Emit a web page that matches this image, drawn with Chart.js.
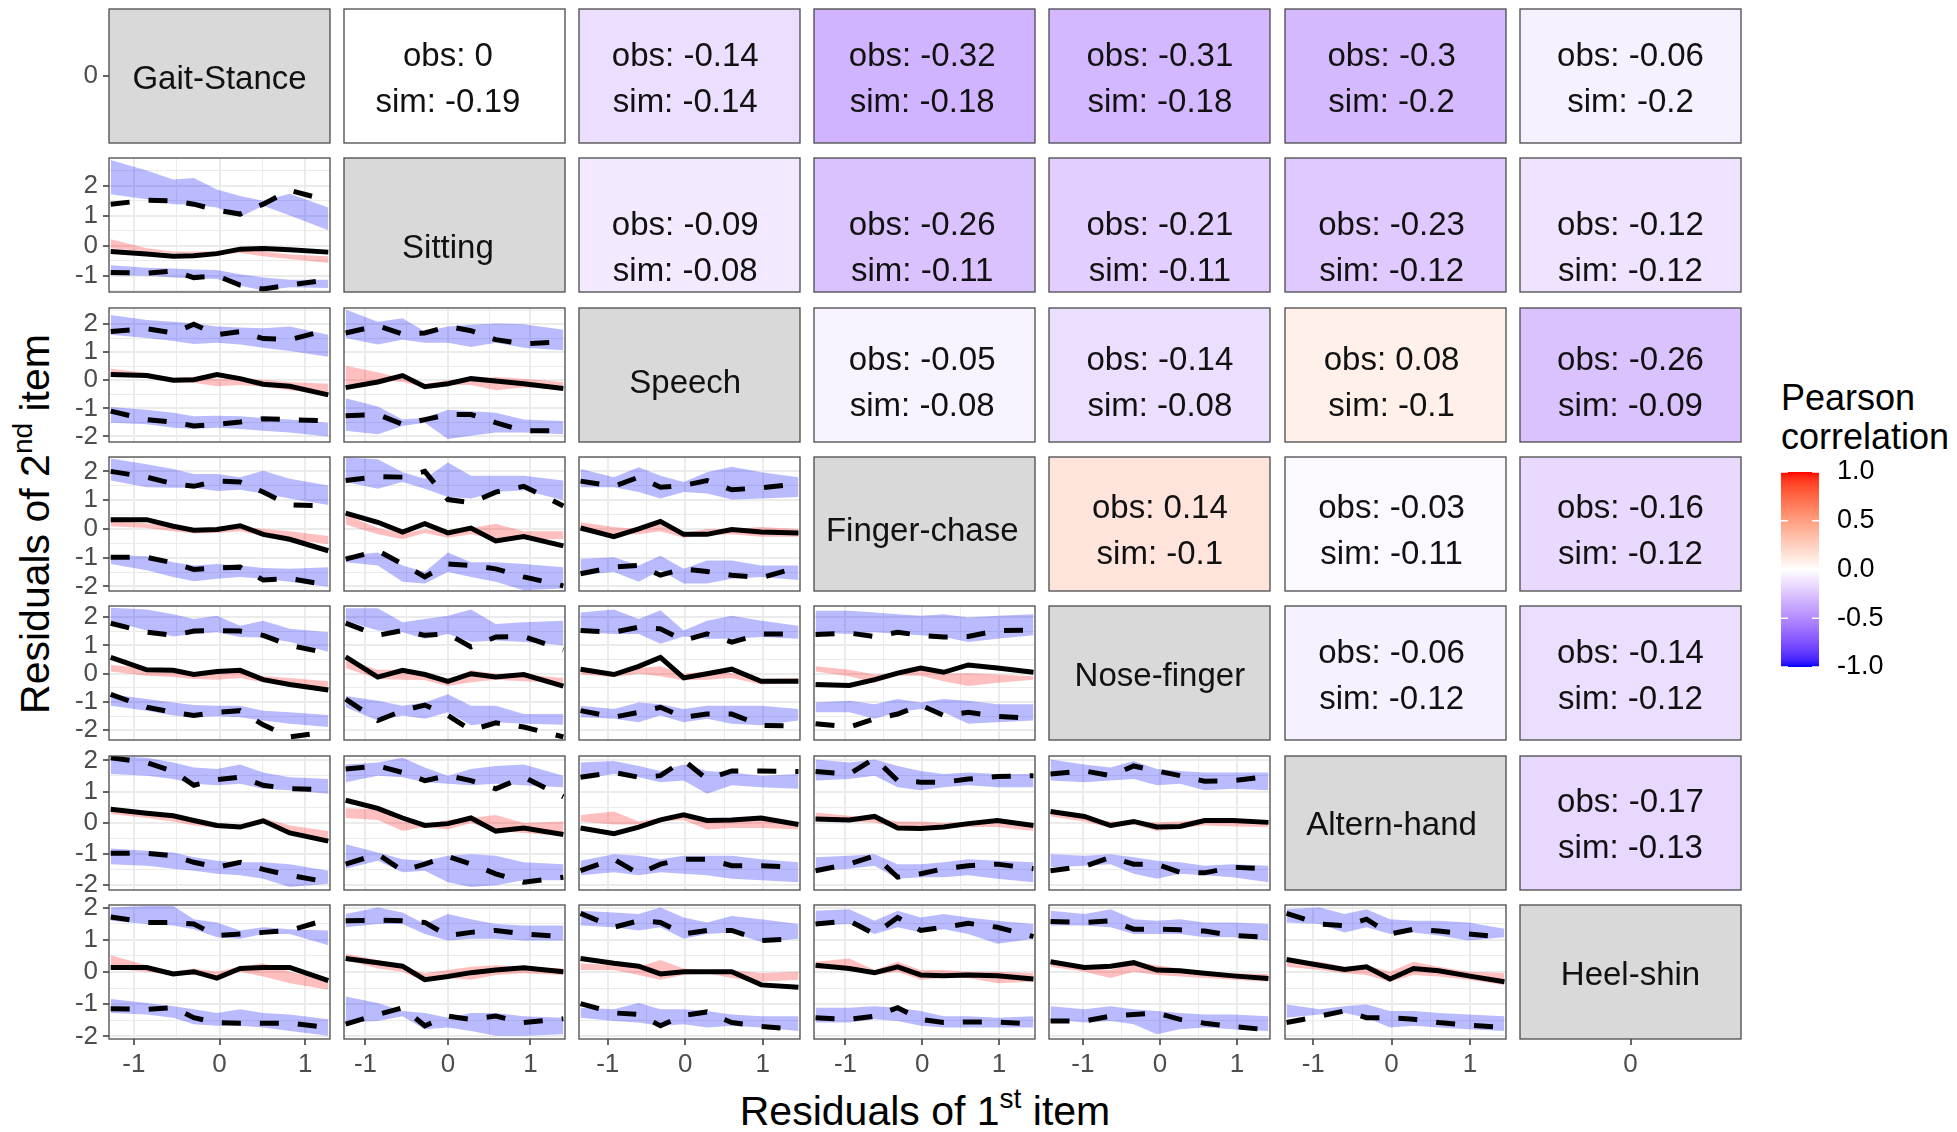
<!DOCTYPE html>
<html>
<head>
<meta charset="utf-8">
<script src="https://cdn.jsdelivr.net/npm/chart.js@4.4.1/dist/chart.umd.min.js"></script>
<style>
  body { margin: 0; background: #fff; }
  #page { position: relative; width: 1957px; height: 1132px; overflow: hidden; background: #fff;
          font-family: "Liberation Sans", Arial, sans-serif; }
  #page canvas { position: absolute; }
  .txt { position: absolute; color: #000; white-space: nowrap; line-height: 1; }
  .sup { font-size: 28px; position: relative; top: -17px; }
</style>
</head>
<body>
<div id="page">
  <div class="txt" id="ytitle" style="font-size:41px;left:35px;top:524px;transform:translate(-50%,-50%) rotate(-90deg);">Residuals of 2<span class="sup">nd</span> item</div>
  <div class="txt" id="xtitle" style="font-size:41px;left:925px;top:1111px;transform:translate(-50%,-50%);">Residuals of 1<span class="sup">st</span> item</div>
  <div class="txt" style="font-size:36px;left:1781px;top:380px;">Pearson</div>
  <div class="txt" style="font-size:36px;left:1781px;top:419px;">correlation</div>
</div>
<script>
const FONT = '"Liberation Sans", Arial, sans-serif';

// items (rows = 2nd item, columns = 1st item)
const items = ['Gait-Stance', 'Sitting', 'Speech', 'Finger-chase', 'Nose-finger', 'Altern-hand', 'Heel-shin'];

// upper triangle, in order r0c1..r0c6, r1c2..r1c6, ... r5c6
const obsCorr = [0, -0.14, -0.32, -0.31, -0.3, -0.06,
                 -0.09, -0.26, -0.21, -0.23, -0.12,
                 -0.05, -0.14, 0.08, -0.26,
                 0.14, -0.03, -0.16,
                 -0.06, -0.14,
                 -0.17];
const simCorr = [-0.19, -0.14, -0.18, -0.18, -0.2, -0.2,
                 -0.08, -0.11, -0.11, -0.12, -0.12,
                 -0.08, -0.08, -0.1, -0.09,
                 -0.1, -0.11, -0.12,
                 -0.12, -0.12,
                 -0.13];

// axis ranges and tick labels
const xMin = [-1.29, -1.26, -1.37, -1.41, -1.44, -1.36, -1];
const xMax = [1.29, 1.42, 1.48, 1.47, 1.43, 1.46, 1];
const yMin = [-1, -1.55, -2.2, -2.16, -2.35, -2.16, -2.08];
const yMax = [1, 2.92, 2.58, 2.5, 2.4, 2.14, 2.08];
const xTicks = [-1, 0, 1];
const yTicks = [-2, -1, 0, 1, 2];
const centreTick = [0];
const legendTicks = [-1, -0.5, 0, 0.5, 1];

// bin centres of the 1st item, per column
const xBins = [
  [-1.27, -0.85, -0.54, -0.30, -0.03, 0.24, 0.51, 0.82, 1.27],
  [-1.24, -0.85, -0.55, -0.28, 0.0, 0.28, 0.58, 0.92, 1.40],
  [-1.35, -0.92, -0.6, -0.32, -0.02, 0.28, 0.6, 0.98, 1.46],
  [-1.39, -0.95, -0.62, -0.32, -0.02, 0.28, 0.6, 0.98, 1.45],
  [-1.42, -0.98, -0.64, -0.34, -0.04, 0.26, 0.58, 0.95, 1.41],
  [-1.34, -0.92, -0.6, -0.32, -0.02, 0.28, 0.6, 0.98, 1.44]
];

// lower triangle panels, in order r1c0, r2c0, r2c1, r3c0 ... r6c5
// observed upper quantile (dashed)
const upperObs = [
  [1.38,1.51,1.49,1.38,1.18,1.05,1.38,1.84,1.5],
  [1.74,1.84,1.69,2.0,1.63,1.74,1.49,1.45,1.8],
  [1.69,1.95,1.65,1.69,1.92,1.77,1.45,1.3,1.37],
  [2.0,1.8,1.57,1.48,1.66,1.63,1.28,0.83,0.8],
  [1.68,1.82,1.8,2.0,1.02,0.91,1.28,1.48,0.8],
  [1.66,1.48,1.8,1.45,1.51,1.68,1.36,1.43,1.57],
  [1.79,1.47,1.36,1.51,1.53,1.51,1.36,1.01,0.72],
  [1.79,1.36,1.53,1.36,1.41,0.95,1.3,1.32,0.84],
  [1.53,1.47,1.65,1.59,1.18,1.41,1.12,1.41,1.41],
  [1.39,1.44,1.32,1.47,1.36,1.3,1.32,1.53,1.55],
  [2.08,1.93,1.65,1.2,1.38,1.46,1.2,1.09,1.06],
  [1.72,1.82,1.61,1.35,1.51,1.35,1.09,1.46,0.83],
  [1.46,1.61,1.46,1.51,2.0,1.4,1.66,1.66,1.64],
  [1.64,1.56,2.06,1.35,1.3,1.3,1.4,1.48,1.51],
  [1.56,1.66,1.51,1.82,1.66,1.51,1.33,1.35,1.48],
  [1.71,1.54,1.54,1.49,1.13,1.18,1.23,1.29,1.64],
  [1.59,1.61,1.59,1.54,1.13,1.23,1.29,1.18,1.1],
  [1.82,1.39,1.59,1.54,1.18,1.29,1.29,0.98,1.03],
  [1.49,1.59,1.18,1.69,1.29,1.39,1.51,1.39,1.1],
  [1.57,1.54,1.59,1.33,1.33,1.31,1.27,1.13,1.08],
  [1.82,1.49,1.44,1.64,1.18,1.33,1.27,1.18,1.08]
];
// simulated band for the upper quantile
const upperSimHi = [
  [2.85,2.5,2.2,2.25,1.87,1.65,1.49,1.73,1.27],
  [2.33,2.15,2.09,2.03,1.92,1.88,1.86,1.92,1.63],
  [2.53,2.09,2.21,1.74,1.92,1.98,2.03,2.0,1.8],
  [2.45,2.25,2.08,1.91,1.91,1.8,2.02,1.74,1.51],
  [2.48,2.42,1.97,1.74,2.31,1.85,1.85,1.85,1.68],
  [2.08,1.8,2.14,1.85,1.63,1.97,2.16,1.97,1.8],
  [2.34,2.28,2.11,1.94,2.05,1.7,1.88,1.59,1.47],
  [2.32,2.32,1.82,1.94,2.05,2.28,1.76,1.82,1.88],
  [2.17,2.28,1.94,2.25,1.53,1.88,2.05,1.88,1.7],
  [2.23,2.23,2.17,2.11,2.05,2.11,1.99,2.05,2.11],
  [2.14,2.08,1.93,1.77,1.72,1.87,1.61,1.46,1.4],
  [1.87,1.93,2.08,1.77,1.51,1.72,1.82,1.87,1.51],
  [1.93,1.98,1.82,1.66,1.87,1.66,1.61,1.51,1.56],
  [2.03,1.93,2.03,1.82,1.66,1.56,1.61,1.56,1.56],
  [2.03,1.87,1.77,1.98,1.72,1.66,1.61,1.61,1.61],
  [2.0,2.05,2.05,1.64,1.54,1.29,1.39,1.33,1.29],
  [1.8,2.0,1.85,1.49,1.8,1.64,1.49,1.44,1.44],
  [1.9,1.85,1.8,2.0,1.69,1.54,1.74,1.64,1.49],
  [1.9,1.95,1.59,1.9,1.69,1.8,1.69,1.59,1.49],
  [1.9,1.8,1.95,1.64,1.59,1.64,1.54,1.54,1.49],
  [1.95,2.0,1.8,1.95,1.64,1.59,1.59,1.54,1.34]
];
const upperSimLo = [
  [1.71,1.54,1.38,1.36,1.27,0.95,1.33,1.0,0.51],
  [1.63,1.51,1.4,1.3,1.34,1.28,1.16,1.05,0.84],
  [1.51,1.28,1.45,1.34,1.34,1.19,1.34,1.16,1.07],
  [1.68,1.45,1.43,1.43,1.32,1.36,1.23,1.06,0.83],
  [1.63,1.4,1.63,1.4,1.11,1.06,1.28,1.34,1.0],
  [1.45,1.45,1.28,1.06,1.28,1.23,1.02,1.06,1.11],
  [1.88,1.53,1.32,1.41,1.47,1.3,1.28,1.12,0.78],
  [1.88,1.53,1.47,1.24,1.41,1.12,1.18,1.12,1.01],
  [1.47,1.41,1.41,1.06,1.32,1.24,1.24,1.3,1.24],
  [1.47,1.41,1.47,1.41,1.36,1.3,1.12,1.24,1.36],
  [1.56,1.51,1.4,1.25,1.2,1.25,1.09,1.04,0.93],
  [1.3,1.51,1.46,1.3,1.25,1.2,1.25,1.2,1.14],
  [1.4,1.56,1.46,1.3,1.35,0.93,1.2,1.14,1.09],
  [1.35,1.4,1.51,1.14,1.04,1.14,1.2,1.14,1.14],
  [1.35,1.3,1.35,1.4,1.2,1.25,1.04,1.09,1.04],
  [1.59,1.49,1.44,1.33,1.08,1.03,1.18,1.18,0.83],
  [1.39,1.49,1.49,1.18,0.98,1.03,1.03,0.98,0.98],
  [1.44,1.39,1.29,1.39,1.03,1.18,1.23,0.93,1.03],
  [1.44,1.49,1.18,1.39,1.23,1.33,1.18,0.88,1.03],
  [1.44,1.44,1.39,1.18,1.18,1.18,1.08,1.08,0.98],
  [1.54,1.49,1.23,1.39,1.18,1.23,1.13,0.98,1.08]
];
// observed median (solid)
const medianObs = [
  [-0.2,-0.28,-0.36,-0.34,-0.27,-0.12,-0.1,-0.14,-0.22],
  [0.21,0.17,0,0.02,0.21,0.06,-0.14,-0.21,-0.52],
  [-0.26,-0.06,0.17,-0.23,-0.12,0.06,-0.02,-0.12,-0.29],
  [0.32,0.32,0.09,-0.05,-0.02,0.11,-0.19,-0.36,-0.76],
  [0.55,0.23,-0.11,0.18,-0.14,0.03,-0.42,-0.27,-0.59],
  [0.03,-0.27,0,0.26,-0.19,-0.19,-0.02,-0.11,-0.14],
  [0.58,0.14,0.12,-0.03,0.08,0.12,-0.21,-0.38,-0.58],
  [0.6,-0.12,0.12,-0.03,-0.27,0,-0.12,-0.03,-0.44],
  [0.16,-0.03,0.26,0.58,-0.15,0,0.16,-0.27,-0.27],
  [-0.38,-0.42,-0.21,0.02,0.2,0.05,0.31,0.2,0.05],
  [0.43,0.3,0.22,0.07,-0.09,-0.14,0.06,-0.33,-0.59],
  [0.72,0.46,0.15,-0.09,-0.03,0.15,-0.27,-0.17,-0.38],
  [-0.17,-0.35,-0.14,0.09,0.25,0.07,0.09,0.15,-0.06],
  [0.12,0.09,0.2,-0.17,-0.19,-0.14,-0.03,0.07,-0.09],
  [0.36,0.2,-0.09,0.04,-0.14,-0.12,0.07,0.07,0.01],
  [0.14,0.14,-0.06,0.01,-0.19,0.11,0.14,0.14,-0.27],
  [0.42,0.29,0.18,-0.24,-0.14,-0.02,0.06,0.13,0.01],
  [0.42,0.27,0.18,-0.06,0.01,0.01,0.01,-0.4,-0.47],
  [0.21,0.11,-0.02,0.16,-0.09,-0.12,-0.09,-0.12,-0.22],
  [0.32,0.14,0.18,0.29,0.06,0.04,-0.04,-0.12,-0.2],
  [0.39,0.21,0.08,0.16,-0.22,0.11,0.04,-0.12,-0.3]
];
// simulated band for the median
const medianSimHi = [
  [0.21,-0.09,-0.2,-0.2,-0.2,-0.14,-0.2,-0.3,-0.36],
  [0.41,0.26,0.09,0.12,0.06,0.06,0.02,-0.06,-0.12],
  [0.52,0.29,0.06,-0.12,0,0.02,0.12,0.06,-0.06],
  [0.26,0.2,0.09,0,0.03,0.09,0,-0.08,-0.25],
  [0.49,0.03,-0.14,-0.02,-0.08,0.03,0.18,-0.08,-0.08],
  [0.23,0.07,0,0.2,-0.14,0,0,0.07,0],
  [0.31,0.2,0.14,0.05,0.08,0.08,-0.09,-0.15,-0.27],
  [0.51,0.14,0.14,0.08,-0.21,0.12,0,-0.03,-0.15],
  [0.14,0.02,0.2,0.26,0,0.08,0.02,-0.19,-0.15],
  [0.26,0.14,-0.03,0.02,0.14,0,0.02,-0.03,-0.09],
  [0.41,0.28,0.2,0.07,-0.03,-0.06,0.15,-0.09,-0.27],
  [0.46,0.43,0.04,-0.06,0.09,0.15,0.25,-0.01,0.04],
  [0.25,0.36,0.04,0.15,0.25,0.09,0.09,0.09,-0.01],
  [0.33,0.22,0.15,0.04,0.04,-0.01,0.04,0.04,-0.03],
  [0.3,0.15,0.04,0.04,0.01,0.04,0.12,0.04,0.04],
  [0.52,0.21,0.01,0.11,0.01,0.16,0.27,0.01,-0.24],
  [0.57,0.37,0.16,-0.04,0.06,0.16,0.21,0.16,0.11],
  [0.27,0.21,0.16,0.37,0.11,0.06,0.06,-0.04,0.01],
  [0.32,0.42,0.06,0.32,0.06,0.06,0.01,0.01,-0.04],
  [0.37,0.16,0.06,0.32,0.21,0.11,0.01,-0.04,-0.06],
  [0.37,0.32,0.16,0.21,0.01,0.32,0.16,0.01,-0.04]
];
const medianSimLo = [
  [-0.09,-0.2,-0.25,-0.28,-0.3,-0.25,-0.36,-0.45,-0.58],
  [0.17,0.09,-0.06,-0.09,-0.21,-0.17,-0.23,-0.35,-0.47],
  [-0.17,0,-0.06,-0.26,-0.17,-0.17,-0.35,-0.26,-0.33],
  [0.09,0.03,-0.08,-0.16,-0.14,-0.08,-0.25,-0.36,-0.53],
  [0.15,-0.19,-0.36,-0.14,-0.31,-0.19,-0.36,-0.34,-0.36],
  [-0.08,-0.19,-0.19,-0.08,-0.31,-0.23,-0.19,-0.27,-0.27],
  [0.08,-0.07,-0.12,-0.19,-0.21,-0.15,-0.3,-0.42,-0.61],
  [0.2,-0.19,-0.21,-0.23,-0.44,-0.3,-0.21,-0.27,-0.32],
  [-0.03,-0.12,0,-0.09,-0.23,-0.21,-0.15,-0.38,-0.32],
  [0.08,-0.09,-0.32,-0.07,-0.07,-0.27,-0.44,-0.32,-0.21],
  [0.28,0.15,0.04,-0.09,-0.17,-0.2,-0.03,-0.27,-0.64],
  [0.15,0.09,-0.27,-0.14,-0.22,-0.01,-0.27,-0.33,-0.43],
  [0.04,-0.06,-0.06,0.04,0.09,-0.22,-0.17,-0.17,-0.22],
  [0.07,0.04,0.01,-0.17,-0.22,-0.17,-0.14,-0.14,-0.27],
  [0.2,0.04,-0.17,-0.06,-0.27,-0.17,-0.09,-0.12,-0.14],
  [0.11,0.01,-0.09,-0.09,-0.19,0.01,-0.14,-0.35,-0.55],
  [0.37,0.11,0.01,-0.3,-0.19,-0.24,-0.09,-0.04,-0.09],
  [0.06,0.06,-0.09,-0.24,-0.09,-0.04,-0.19,-0.3,-0.24],
  [0.11,0.06,-0.09,0.01,-0.24,-0.19,-0.19,-0.35,-0.3],
  [0.16,0.01,-0.19,0.01,-0.09,-0.14,-0.19,-0.24,-0.3],
  [0.16,0.06,-0.04,-0.09,-0.3,-0.09,-0.14,-0.24,-0.4]
];
// observed lower quantile (dashed)
const lowerObs = [
  [-0.9,-0.92,-0.85,-1.07,-1.01,-1.32,-1.45,-1.32,-1.14],
  [-1.1,-1.4,-1.49,-1.63,-1.57,-1.49,-1.37,-1.4,-1.45],
  [-1.26,-1.22,-1.57,-1.4,-1.22,-1.22,-1.51,-1.8,-1.8],
  [-0.99,-0.99,-1.18,-1.41,-1.36,-1.33,-1.78,-1.73,-1.95],
  [-1.05,-0.76,-1.22,-1.67,-1.22,-1.27,-1.39,-1.67,-1.98],
  [-1.56,-1.33,-1.27,-1.61,-1.39,-1.48,-1.61,-1.7,-1.33],
  [-0.73,-1.19,-1.37,-1.48,-1.37,-1.31,-1.81,-2.24,-2.06],
  [-0.9,-1.66,-1.31,-1.11,-1.48,-2.0,-1.74,-1.89,-2.24],
  [-1.31,-1.54,-1.37,-1.19,-1.54,-1.43,-1.43,-1.83,-1.86],
  [-1.77,-1.89,-1.6,-1.43,-1.11,-1.48,-1.37,-1.51,-1.58],
  [-0.98,-0.98,-1.06,-1.27,-1.43,-1.27,-1.5,-1.69,-1.91],
  [-1.33,-1.01,-1.54,-1.33,-1.08,-1.33,-1.64,-1.91,-1.75],
  [-1.54,-1.17,-1.64,-1.33,-1.17,-1.17,-1.38,-1.38,-1.43],
  [-1.54,-1.33,-1.06,-1.75,-1.64,-1.48,-1.38,-1.33,-1.48],
  [-1.54,-1.4,-1.11,-1.33,-1.33,-1.59,-1.61,-1.43,-1.48],
  [-1.14,-1.16,-1.11,-1.42,-1.57,-1.59,-1.59,-1.59,-1.72],
  [-1.62,-1.32,-1.11,-1.67,-1.37,-1.47,-1.37,-1.57,-1.45],
  [-0.98,-1.27,-1.32,-1.67,-1.35,-1.24,-1.57,-1.69,-1.78],
  [-1.42,-1.47,-1.37,-1.11,-1.47,-1.57,-1.55,-1.55,-1.62],
  [-1.52,-1.52,-1.37,-1.32,-1.27,-1.47,-1.59,-1.69,-1.8],
  [-1.57,-1.37,-1.21,-1.42,-1.42,-1.47,-1.57,-1.65,-1.72]
];
// simulated band for the lower quantile
const lowerSimHi = [
  [-0.66,-0.74,-0.77,-0.8,-0.82,-0.96,-1.07,-1.14,-1.14],
  [-0.95,-1.05,-1.16,-1.28,-1.26,-1.28,-1.34,-1.4,-1.51],
  [-0.64,-0.93,-1.4,-1.34,-1.05,-1.1,-1.16,-1.4,-1.45],
  [-0.91,-0.95,-1.16,-1.27,-1.22,-1.27,-1.36,-1.39,-1.33],
  [-0.93,-0.82,-1.27,-1.5,-0.82,-1.16,-1.16,-1.22,-1.33],
  [-1.05,-0.99,-1.27,-0.93,-1.39,-1.1,-1.1,-1.27,-1.27],
  [-0.73,-0.9,-1.02,-1.11,-1.14,-1.14,-1.31,-1.37,-1.46],
  [-0.79,-0.96,-1.14,-1.02,-0.73,-1.14,-1.14,-1.43,-1.43],
  [-1.14,-1.25,-1.02,-1.08,-1.25,-1.14,-1.14,-1.14,-1.25],
  [-1.02,-0.96,-1.08,-0.9,-1.02,-0.9,-0.96,-1.08,-1.08],
  [-0.83,-0.9,-0.96,-1.11,-1.22,-1.27,-1.27,-1.33,-1.54],
  [-0.69,-0.96,-1.17,-1.22,-1.06,-1.01,-1.06,-1.27,-1.33],
  [-1.22,-1.01,-1.06,-1.17,-1.06,-1.06,-1.06,-1.17,-1.27],
  [-1.11,-1.06,-1.01,-1.33,-1.33,-1.27,-1.17,-1.22,-1.27],
  [-1.01,-1.06,-1.01,-1.11,-1.22,-1.27,-1.38,-1.33,-1.38],
  [-0.84,-0.96,-1.06,-1.16,-1.27,-1.16,-1.27,-1.32,-1.47],
  [-0.76,-0.96,-1.21,-1.27,-1.42,-1.27,-1.27,-1.37,-1.42],
  [-1.11,-1.16,-0.96,-1.16,-1.16,-1.21,-1.32,-1.37,-1.37],
  [-1.11,-1.11,-1.06,-1.11,-1.21,-1.37,-1.37,-1.42,-1.37],
  [-1.06,-1.16,-1.06,-1.16,-1.21,-1.27,-1.32,-1.32,-1.37],
  [-1.01,-1.16,-1.06,-1.01,-1.21,-1.21,-1.27,-1.32,-1.37]
];
const lowerSimLo = [
  [-0.99,-1.01,-1.07,-1.1,-1.12,-1.34,-1.5,-1.39,-1.42],
  [-1.51,-1.57,-1.69,-1.74,-1.69,-1.74,-1.8,-1.86,-2.0],
  [-1.8,-1.92,-1.63,-1.51,-2.09,-1.98,-1.86,-1.86,-1.92],
  [-1.22,-1.44,-1.67,-1.82,-1.73,-1.67,-1.73,-1.84,-2.01],
  [-1.16,-1.27,-1.84,-1.9,-1.5,-1.67,-1.84,-2.13,-2.07],
  [-1.61,-1.5,-1.84,-1.44,-1.9,-1.9,-1.73,-1.67,-1.78],
  [-1.14,-1.31,-1.48,-1.54,-1.51,-1.54,-1.66,-1.77,-1.89],
  [-1.19,-1.66,-1.48,-1.6,-1.37,-1.83,-1.72,-1.77,-1.81],
  [-1.54,-1.6,-1.72,-1.48,-1.72,-1.6,-1.77,-1.83,-1.66],
  [-1.37,-1.37,-1.6,-1.37,-1.25,-1.37,-1.77,-1.72,-1.66],
  [-1.33,-1.38,-1.48,-1.54,-1.64,-1.69,-1.8,-2.06,-1.96],
  [-1.48,-1.22,-1.59,-1.54,-1.91,-2.06,-2.01,-1.85,-1.85],
  [-1.69,-1.59,-1.69,-1.59,-1.64,-1.69,-1.8,-1.85,-1.91],
  [-1.54,-1.48,-1.38,-1.8,-1.75,-1.75,-1.69,-1.8,-1.91],
  [-1.43,-1.38,-1.33,-1.64,-1.8,-1.64,-1.69,-1.75,-1.91],
  [-1.27,-1.32,-1.42,-1.62,-1.67,-1.67,-1.72,-1.83,-1.98],
  [-1.57,-1.52,-1.37,-1.78,-1.72,-1.83,-1.98,-1.98,-1.93],
  [-1.42,-1.52,-1.57,-1.67,-1.62,-1.72,-1.67,-1.72,-1.83],
  [-1.57,-1.57,-1.47,-1.52,-1.67,-1.72,-1.72,-1.72,-1.72],
  [-1.47,-1.57,-1.52,-1.62,-1.93,-1.78,-1.72,-1.78,-1.83],
  [-1.42,-1.32,-1.27,-1.42,-1.72,-1.67,-1.72,-1.78,-1.83]
];

// ---------- colours (ggplot gradient2, interpolated in Lab) ----------
function lin(c) { c /= 255; return c <= 0.04045 ? c / 12.92 : Math.pow((c + 0.055) / 1.055, 2.4); }
function toLab(rgb) {
  const [r, g, b] = rgb.map(lin);
  const X = (0.4124 * r + 0.3576 * g + 0.1805 * b) / 0.95047;
  const Y = 0.2126 * r + 0.7152 * g + 0.0722 * b;
  const Z = (0.0193 * r + 0.1192 * g + 0.9505 * b) / 1.08883;
  const f = t => t > 0.008856 ? Math.cbrt(t) : 7.787 * t + 16 / 116;
  return [116 * f(Y) - 16, 500 * (f(X) - f(Y)), 200 * (f(Y) - f(Z))];
}
function fromLab([L, a, b]) {
  const fy = (L + 16) / 116, fx = fy + a / 500, fz = fy - b / 200;
  const inv = t => t * t * t > 0.008856 ? t * t * t : (t - 16 / 116) / 7.787;
  const X = 0.95047 * inv(fx), Y = inv(fy), Z = 1.08883 * inv(fz);
  const out = [3.2406 * X - 1.5372 * Y - 0.4986 * Z,
               -0.9689 * X + 1.8758 * Y + 0.0415 * Z,
               0.0557 * X - 0.2040 * Y + 1.0570 * Z];
  return out.map(c => {
    c = Math.max(0, Math.min(1, c));
    return Math.round(255 * (c <= 0.0031308 ? 12.92 * c : 1.055 * Math.pow(c, 1 / 2.4) - 0.055));
  });
}
const LAB_BLUE = toLab([0, 0, 255]), LAB_WHITE = toLab([255, 255, 255]), LAB_RED = toLab([255, 0, 0]);
function corrColour(v) {
  const end = v < 0 ? LAB_BLUE : LAB_RED;
  const t = Math.min(1, Math.abs(v));
  const [r, g, b] = fromLab(LAB_WHITE.map((w, i) => w + (end[i] - w) * t));
  return `rgb(${r},${g},${b})`;
}

// ---------- layout ----------
const page = document.getElementById('page');
const L0 = 108.6, PX = 235.2, PW = 221, T0 = 8.7, PY = 149.4, PH = 134;
const M = 10, AX = 52, AXB = 46;

function addCanvas(left, top, w, h) {
  const cv = document.createElement('canvas');
  cv.width = w; cv.height = h;
  cv.style.left = left + 'px'; cv.style.top = top + 'px';
  cv.style.width = w + 'px'; cv.style.height = h + 'px';
  page.appendChild(cv);
  return cv;
}

function halfSteps(min, max) {
  const out = [];
  for (let v = Math.ceil(min * 2) / 2; v <= max + 1e-9; v += 0.5) out.push(Math.round(v * 2) / 2);
  return out;
}

const panelBorder = {
  id: 'panelBorder',
  afterDraw(chart) {
    const a = chart.chartArea, ctx = chart.ctx;
    ctx.save();
    ctx.strokeStyle = '#4a4a4a';
    ctx.lineWidth = 1.3;
    ctx.strokeRect(a.left, a.top, a.right - a.left, a.bottom - a.top);
    ctx.restore();
  }
};
// labels sit at (0, 0) of the panel's own scales, as in the original
const cellText = {
  id: 'cellText',
  afterDatasetsDraw(chart, args, opts) {
    if (!opts || !opts.lines) return;
    const ctx = chart.ctx;
    const cx = chart.scales.x.getPixelForValue(0), cy = chart.scales.y.getPixelForValue(0);
    const n = opts.lines.length, gap = 46;
    ctx.save();
    ctx.fillStyle = '#111';
    ctx.font = '33px ' + FONT;
    ctx.textAlign = 'center';
    ctx.textBaseline = 'middle';
    opts.lines.forEach((t, i) => ctx.fillText(t, cx, cy + (i - (n - 1) / 2) * gap + 3.5));
    ctx.restore();
  }
};

function axis(min, max, major, vals, showLabels, isX, grid) {
  return {
    type: 'linear', min, max, bounds: 'data',
    display: true,
    border: { display: false },
    grid: {
      display: grid || showLabels,
      color: '#EBEBEB',
      lineWidth: c => (c.tick && major.includes(c.tick.value)) ? 2 : 1,
      drawTicks: showLabels,
      tickLength: 6,
      tickWidth: 1.5,
      tickColor: c => (c.tick && major.includes(c.tick.value)) ? '#333333' : 'rgba(0,0,0,0)'
    },
    ticks: {
      display: showLabels,
      autoSkip: false, maxRotation: 0, minRotation: 0,
      padding: isX ? 4 : 5,
      color: '#4D4D4D',
      font: { family: FONT, size: 26 },
      callback: v => major.includes(v) ? String(v) : ''
    },
    afterBuildTicks: s => { s.ticks = vals.map(v => ({ value: v })); },
    afterFit: s => {
      if (isX) s.height = showLabels ? AXB : 0; else s.width = showLabels ? AX : 0;
      s.paddingLeft = s.paddingRight = s.paddingTop = s.paddingBottom = 0;
    }
  };
}

function makeCell(r, c) {
  const leftAxis = c === 0, bottomAxis = r === 6;
  const px = Math.round(L0 + c * PX), py = Math.round(T0 + r * PY);
  const cv = addCanvas(px - M - (leftAxis ? AX : 0), py - M,
                       PW + 2 * M + (leftAxis ? AX : 0), PH + 2 * M + (bottomAxis ? AXB : 0));
  const xMaj = c === 6 ? centreTick : xTicks;
  const yMaj = r === 0 ? centreTick : yTicks;
  const lower = r > c;
  let datasets, text = null;

  if (lower) {
    const k = r * (r - 1) / 2 + c;
    const xs = xBins[c];
    const pts = arr => arr[k].map((y, i) => ({ x: xs[i], y }));
    const line = (arr, dash) => ({ data: pts(arr), borderColor: '#000', borderWidth: 5,
                                   borderDash: dash, borderCapStyle: 'butt', fill: false, pointRadius: 0 });
    const band = (arr, col, fill) => ({ data: pts(arr), borderWidth: 0, borderColor: 'rgba(0,0,0,0)',
                                        backgroundColor: col, fill: fill, pointRadius: 0 });
    const blue = 'rgba(0,0,255,0.27)', red = 'rgba(255,0,0,0.25)';
    datasets = [
      line(medianObs, []),
      line(upperObs, [19, 19]),
      line(lowerObs, [19, 19]),
      band(upperSimHi, blue, '+1'), band(upperSimLo, blue, false),
      band(medianSimHi, red, '+1'), band(medianSimLo, red, false),
      band(lowerSimHi, blue, '+1'), band(lowerSimLo, blue, false)
    ];
  } else {
    let fillCol;
    if (r === c) { fillCol = '#D9D9D9'; text = [items[r]]; }
    else {
      const k = r * 6 - r * (r - 1) / 2 + (c - r - 1);
      fillCol = corrColour(obsCorr[k]);
      text = ['obs: ' + obsCorr[k], 'sim: ' + simCorr[k]];
    }
    datasets = [{ data: [{ x: xMin[c], y: yMax[r] }, { x: xMax[c], y: yMax[r] }], borderWidth: 0,
                  borderColor: 'rgba(0,0,0,0)', backgroundColor: fillCol, fill: { value: yMin[r] }, pointRadius: 0 }];
  }

  const xVals = (c === 6 || !lower) ? centreTick : halfSteps(xMin[c], xMax[c]);
  const yVals = (r === 0 || !lower) ? centreTick : halfSteps(yMin[r], yMax[r]);

  new Chart(cv, {
    type: 'line',
    data: { datasets },
    options: {
      responsive: false, animation: false, devicePixelRatio: 1, events: [],
      layout: { padding: { left: M, right: M, top: M, bottom: M } },
      elements: { line: { tension: 0 }, point: { radius: 0 } },
      plugins: { legend: { display: false }, tooltip: { enabled: false }, cellText: { lines: text } },
      scales: {
        x: axis(xMin[c], xMax[c], xMaj, xVals, bottomAxis, true, lower),
        y: axis(yMin[r], yMax[r], yMaj, yVals, leftAxis, false, lower)
      }
    },
    plugins: [panelBorder, cellText]
  });
}

for (let r = 0; r < 7; r++) for (let c = 0; c < 7; c++) makeCell(r, c);

// ---------- colour bar legend ----------
const colourBar = {
  id: 'colourBar',
  beforeDatasetsDraw(chart) {
    const a = chart.chartArea, ctx = chart.ctx, y = chart.scales.y;
    const g = ctx.createLinearGradient(0, y.getPixelForValue(1), 0, y.getPixelForValue(-1));
    for (let i = 0; i <= 40; i++) {
      const v = 1 - i / 20;
      g.addColorStop(i / 40, corrColour(v));
    }
    ctx.save();
    ctx.fillStyle = g;
    ctx.fillRect(a.left, a.top, a.right - a.left, a.bottom - a.top);
    ctx.strokeStyle = '#fff';
    ctx.lineWidth = 1.5;
    legendTicks.forEach(v => {
      const py = y.getPixelForValue(v);
      ctx.beginPath();
      ctx.moveTo(a.left, py); ctx.lineTo(a.left + 7, py);
      ctx.moveTo(a.right - 7, py); ctx.lineTo(a.right, py);
      ctx.stroke();
    });
    ctx.restore();
  }
};
const lg = addCanvas(1760, 450, 197, 240);
new Chart(lg, {
  type: 'line',
  data: { datasets: [{ data: [] }] },
  options: {
    responsive: false, animation: false, devicePixelRatio: 1, events: [],
    layout: { padding: { left: 21, right: 0, top: 22, bottom: 23 } },
    plugins: { legend: { display: false }, tooltip: { enabled: false } },
    scales: {
      x: { type: 'linear', min: 0, max: 1, display: false },
      y: {
        type: 'linear', position: 'right', min: -1, max: 1,
        border: { display: false },
        grid: { display: false, drawTicks: false },
        ticks: { color: '#000', padding: 18, font: { family: FONT, size: 27 },
                 callback: v => v.toFixed(1) },
        afterBuildTicks: s => { s.ticks = legendTicks.map(v => ({ value: v })); },
        afterFit: s => { s.width = 138; s.paddingTop = s.paddingBottom = 0; }
      }
    }
  },
  plugins: [colourBar]
});
</script>
</body>
</html>
